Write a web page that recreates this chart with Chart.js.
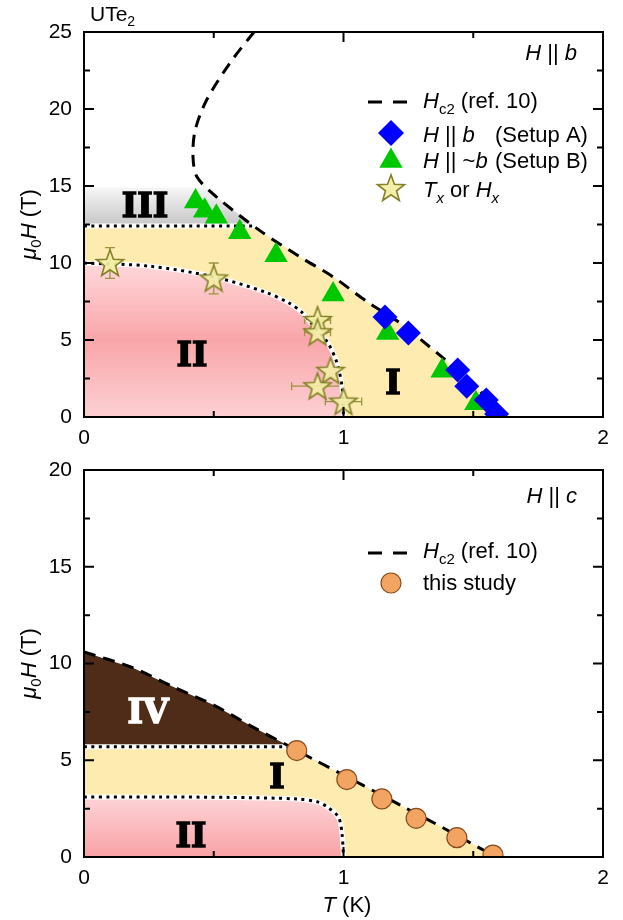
<!DOCTYPE html>
<html>
<head>
<meta charset="utf-8">
<script src="https://cdn.jsdelivr.net/npm/chart.js@4.4.1/dist/chart.umd.min.js"></script>
<style>
  html, body { margin: 0; padding: 0; background: #fff; width: 623px; height: 920px; overflow: hidden; }
  canvas { position: absolute; left: 0; }
  #topChart { top: 0; }
  #botChart { top: 440px; }
</style>
</head>
<body>
<canvas id="topChart" width="623" height="460"></canvas>
<canvas id="botChart" width="623" height="480"></canvas>
<script>
// ---- axes ----
const xTicks = [0, 1, 2];
const xMinor = [0.5, 1.5];
const yTicksB = [0, 5, 10, 15, 20, 25];
const yMinorB = [2.5, 7.5, 12.5, 17.5, 22.5];
const yTicksC = [0, 5, 10, 15, 20];
const yMinorC = [2.5, 7.5, 12.5, 17.5];

// ---- H || b ----
const hc2B_T = [0.655, 0.563, 0.473, 0.428, 0.42, 0.435, 0.51, 0.678, 0.832, 0.96, 1.09, 1.218, 1.372, 1.5, 1.603];
const hc2B_H = [25.0, 23.0, 20.6, 18.6, 16.9, 15.6, 14.3, 12.1, 10.4, 9.1, 7.5, 6.1, 4.0, 2.2, 0.0];
const setupA_T = [1.16, 1.25, 1.44, 1.475, 1.55, 1.59];
const setupA_H = [6.5, 5.45, 3.05, 2.0, 1.1, 0.2];
const setupB_T = [0.43, 0.465, 0.51, 0.6, 0.74, 0.96, 1.17, 1.38, 1.51];
const setupB_H = [14.0, 13.4, 13.0, 12.0, 10.5, 7.95, 5.45, 3.0, 0.9];
const txT = [0.10, 0.50, 0.90, 0.90, 0.95, 0.90, 1.00];
const txH = [10.0, 9.0, 6.3, 5.5, 3.0, 2.0, 1.0];
const txErrT = [0, 0, 0.05, 0.05, 0, 0.1, 0.07];
const txErrH = [1.0, 1.0, 0, 0, 0, 0, 0];
// phase boundaries
const topIII_H = 14.9;
const lineI_B_T = [0, 0.66];
const lineI_B_H = [12.4, 12.4];
const lineII_B_T = [0, 0.25, 0.5, 0.7, 0.79, 0.84, 0.88, 0.94, 0.975, 0.995, 1.0];
const lineII_B_H = [10.0, 9.8, 9.1, 8.1, 7.4, 6.8, 6.0, 4.8, 3.5, 1.9, 0.0];

// ---- H || c ----
const hc2C_T = [0.0, 0.19, 0.343, 0.5, 0.653, 0.78, 0.884, 1.076, 1.23, 1.385, 1.513, 1.59];
const hc2C_H = [10.6, 9.77, 8.8, 7.85, 6.7, 5.8, 5.05, 3.7, 2.6, 1.5, 0.55, 0.0];
const studyT = [0.82, 1.013, 1.148, 1.28, 1.437, 1.576];
const studyH = [5.5, 4.0, 3.0, 2.0, 1.0, 0.1];
const lineI_C_T = [0, 0.79];
const lineI_C_H = [5.7, 5.7];
const lineII_C_T = [0, 0.3, 0.56, 0.82, 0.9, 0.936, 0.98, 0.994, 1.0];
const lineII_C_H = [3.1, 3.1, 3.08, 3.0, 2.85, 2.6, 2.07, 1.24, 0.0];

const FAM = '"Liberation Sans", Arial, Helvetica, sans-serif';
const SERIF = '"DejaVu Serif", serif';

function pts(T, H) { return T.map((t, i) => ({ x: t, y: H[i] })); }

// points of the descending Hc2 branch between two field levels
function branchBetween(T, H, start, hi, lo) {
  const at = lv => {
    for (let i = start; i < T.length - 1; i++) {
      if ((H[i] - lv) * (H[i + 1] - lv) <= 0) {
        const f = (H[i] - lv) / (H[i] - H[i + 1]);
        return { x: T[i] + f * (T[i + 1] - T[i]), y: lv };
      }
    }
    return { x: T[start], y: lv };
  };
  const out = [at(hi)];
  for (let i = start; i < T.length; i++) if (H[i] < hi && H[i] > lo) out.push({ x: T[i], y: H[i] });
  out.push(at(lo));
  return out;
}

const starImg = (() => {
  const c = document.createElement('canvas');
  c.width = 32; c.height = 32;
  const g = c.getContext('2d');
  g.beginPath();
  for (let k = 0; k < 10; k++) {
    const r = k % 2 ? 5.8 : 14.2;
    const a = -Math.PI / 2 + k * Math.PI / 5;
    const px = 16 + r * Math.cos(a), py = 17 + r * Math.sin(a);
    k ? g.lineTo(px, py) : g.moveTo(px, py);
  }
  g.closePath();
  g.fillStyle = 'rgba(242,238,164,0.92)';
  g.fill();
  g.lineWidth = 1.6;
  g.strokeStyle = '#858128';
  g.stroke();
  return c;
})();

function rich(ctx, parts, x, y, size, align) {
  const font = s => (s.includes('i') ? 'italic ' : '') + (s.includes('s') ? Math.round(size * 0.68) : size) + 'px ' + FAM;
  let w = 0;
  for (const [t, s] of parts) { ctx.font = font(s); w += ctx.measureText(t).width; }
  let cx = align === 'right' ? x - w : align === 'center' ? x - w / 2 : x;
  ctx.textAlign = 'left';
  ctx.textBaseline = 'alphabetic';
  for (const [t, s] of parts) {
    ctx.font = font(s);
    ctx.fillText(t, cx, y + (s.includes('s') ? size * 0.25 : 0));
    cx += ctx.measureText(t).width;
  }
}

function drawMarker(ctx, style, color, radius, x, y, border) {
  ctx.save();
  ctx.fillStyle = color;
  ctx.strokeStyle = border || color;
  ctx.lineWidth = border ? 1.2 : 0;
  Chart.helpers.drawPoint(ctx, { pointStyle: style, radius: radius, rotation: 0, borderWidth: border ? 1.2 : 0 }, x, y);
  ctx.restore();
}

function panelPlugin(p) {
  return {
    id: 'panel',
    beforeDatasetsDraw(chart) {
      const { ctx, chartArea: a, scales: { x, y } } = chart;
      ctx.save();
      ctx.beginPath();
      ctx.rect(a.left, a.top, a.right - a.left, a.bottom - a.top);
      ctx.clip();
      for (const r of p.regions) {
        ctx.beginPath();
        r.pts.forEach((q, i) => {
          const px = x.getPixelForValue(q.x), py = y.getPixelForValue(q.y);
          i ? ctx.lineTo(px, py) : ctx.moveTo(px, py);
        });
        ctx.closePath();
        ctx.fillStyle = r.fill(ctx, y);
        ctx.fill();
      }
      ctx.restore();
      // region labels (heavy slab serif)
      ctx.save();
      ctx.font = 'bold 33px ' + SERIF;
      ctx.textAlign = 'center';
      ctx.textBaseline = 'alphabetic';
      ctx.lineWidth = 1.6;
      ctx.lineJoin = 'miter';
      for (const l of p.labels) {
        ctx.fillStyle = l.c; ctx.strokeStyle = l.c;
        ctx.fillText(l.t, l.x, l.y);
        ctx.strokeText(l.t, l.x, l.y);
      }
      ctx.restore();
      // error bars
      if (p.errors) {
        ctx.save();
        ctx.strokeStyle = '#9a9440';
        ctx.lineWidth = 1.3;
        ctx.beginPath();
        p.errors.T.forEach((t, i) => {
          const px = x.getPixelForValue(t), py = y.getPixelForValue(p.errors.H[i]);
          const dt = p.errors.eT[i], dh = p.errors.eH[i];
          if (dt) {
            const l = x.getPixelForValue(t - dt), r = x.getPixelForValue(t + dt);
            ctx.moveTo(l, py); ctx.lineTo(r, py);
            ctx.moveTo(l, py - 4); ctx.lineTo(l, py + 4);
            ctx.moveTo(r, py - 4); ctx.lineTo(r, py + 4);
          }
          if (dh) {
            const t1 = y.getPixelForValue(p.errors.H[i] + dh), b1 = y.getPixelForValue(p.errors.H[i] - dh);
            ctx.moveTo(px, t1); ctx.lineTo(px, b1);
            ctx.moveTo(px - 5, t1); ctx.lineTo(px + 5, t1);
            ctx.moveTo(px - 5, b1); ctx.lineTo(px + 5, b1);
          }
        });
        ctx.stroke();
        ctx.restore();
      }
    },
    afterDraw(chart) {
      const { ctx, chartArea: a, scales: { x, y } } = chart;
      ctx.save();
      ctx.strokeStyle = '#000';
      ctx.lineWidth = 2;
      ctx.beginPath();
      const xt = (vals, len) => vals.forEach(v => {
        const px = x.getPixelForValue(v);
        ctx.moveTo(px, a.bottom); ctx.lineTo(px, a.bottom - len);
        ctx.moveTo(px, a.top); ctx.lineTo(px, a.top + len);
      });
      const yt = (vals, len) => vals.forEach(v => {
        const py = y.getPixelForValue(v);
        ctx.moveTo(a.left, py); ctx.lineTo(a.left + len, py);
        ctx.moveTo(a.right, py); ctx.lineTo(a.right - len, py);
      });
      xt(xTicks, 10); xt(xMinor, 6);
      yt(p.yTicks, 10); yt(p.yMinor, 6);
      ctx.stroke();
      ctx.strokeRect(a.left, a.top, a.right - a.left, a.bottom - a.top);
      ctx.restore();

      ctx.save();
      ctx.fillStyle = '#000';
      // y title
      ctx.save();
      ctx.translate(35.5, (a.top + a.bottom) / 2);
      ctx.rotate(-Math.PI / 2);
      rich(ctx, [['μ', 'i'], ['0', 's'], ['H', 'i'], [' (T)', '']], 0, 0, 22, 'center');
      ctx.restore();
      p.draw(ctx, a);
      ctx.restore();
    }
  };
}

function makeChart(id, p) {
  return new Chart(document.getElementById(id), {
    type: 'scatter',
    data: { datasets: p.datasets },
    options: {
      responsive: false,
      animation: false,
      events: [],
      layout: { padding: { left: 0, right: 20, top: p.padTop, bottom: 0 } },
      plugins: { legend: { display: false }, tooltip: { enabled: false } },
      scales: {
        x: {
          type: 'linear', min: 0, max: 2,
          afterBuildTicks: s => { s.ticks = xTicks.map(v => ({ value: v })); },
          afterFit: s => { s.height = p.xHeight; },
          grid: { display: false, drawTicks: false, tickLength: 0 },
          border: { display: false },
          ticks: { font: { family: FAM, size: 21 }, color: '#000', padding: 9, maxRotation: 0, callback: v => String(v) }
        },
        y: {
          type: 'linear', min: 0, max: p.yMax,
          afterBuildTicks: s => { s.ticks = p.yTicks.map(v => ({ value: v })); },
          afterFit: s => { s.width = 84; },
          grid: { display: false, drawTicks: false, tickLength: 0 },
          border: { display: false },
          ticks: { font: { family: FAM, size: 21 }, color: '#000', padding: 12, callback: v => String(v) }
        }
      }
    },
    plugins: [panelPlugin(p)]
  });
}

const dotted = (T, H) => [
  { data: pts(T, H), showLine: true, borderColor: '#fff', borderWidth: 5, pointRadius: 0, tension: 0.3, order: 10 },
  { data: pts(T, H), showLine: true, borderColor: '#000', borderWidth: 3, borderDash: [3, 4.5], pointRadius: 0, tension: 0.3, order: 9 }
];
const dashed = (T, H) => ({ data: pts(T, H), showLine: true, borderColor: '#000', borderWidth: 3, borderDash: [12, 8], pointRadius: 0, tension: 0.3, order: 8 });

const yellow = () => '#fdebb0';

// ---- top panel ----
makeChart('topChart', {
  padTop: 32, xHeight: 43, yMax: 25, yTicks: yTicksB, yMinor: yMinorB,
  regions: [
    { pts: [{ x: 0, y: 0 }, { x: 0, y: lineI_B_H[0] }, ...branchBetween(hc2B_T, hc2B_H, 4, lineI_B_H[0], 0)], fill: yellow },
    { pts: [{ x: 0, y: lineI_B_H[0] }, { x: 0, y: topIII_H }, ...branchBetween(hc2B_T, hc2B_H, 4, topIII_H, lineI_B_H[0])],
      fill: (ctx, y) => { const g = ctx.createLinearGradient(0, y.getPixelForValue(topIII_H), 0, y.getPixelForValue(lineI_B_H[0])); g.addColorStop(0, '#f6f6f6'); g.addColorStop(1, '#c6c6c6'); return g; } },
    { pts: [{ x: 0, y: 0 }, ...pts(lineII_B_T, lineII_B_H)],
      fill: (ctx, y) => { const g = ctx.createLinearGradient(0, y.getPixelForValue(10), 0, y.getPixelForValue(0)); g.addColorStop(0, '#ffd8db'); g.addColorStop(0.5, '#f9a6a9'); g.addColorStop(1, '#fdd0d3'); return g; } }
  ],
  labels: [
    { t: 'III', x: 145, y: 217, c: '#000' },
    { t: 'II', x: 192, y: 366, c: '#000' },
    { t: 'I', x: 393, y: 394, c: '#000' }
  ],
  errors: { T: txT, H: txH, eT: txErrT, eH: txErrH },
  datasets: [
    ...dotted(lineI_B_T, lineI_B_H),
    ...dotted(lineII_B_T, lineII_B_H),
    dashed(hc2B_T, hc2B_H),
    { data: pts(setupB_T, setupB_H), pointStyle: 'triangle', pointRadius: 13.5, pointBackgroundColor: '#00c800', pointBorderWidth: 0, order: 3 },
    { data: pts(setupA_T, setupA_H), pointStyle: 'rectRot', pointRadius: 12.5, pointBackgroundColor: '#0000ff', pointBorderWidth: 0, order: 2 },
    { data: pts(txT, txH), pointStyle: starImg, pointRadius: 14, order: 1 }
  ],
  draw(ctx, a) {
    rich(ctx, [['UTe', ''], ['2', 's']], 90, 21, 21, 'left');
    rich(ctx, [['H', 'i'], [' || ', ''], ['b', 'i']], 577, 60, 22, 'right');
    ctx.save();
    ctx.strokeStyle = '#000'; ctx.lineWidth = 3; ctx.setLineDash([14, 11]);
    ctx.beginPath(); ctx.moveTo(368, 102); ctx.lineTo(407, 102); ctx.stroke();
    ctx.restore();
    rich(ctx, [['H', 'i'], ['c2', 's'], [' (ref. 10)', '']], 423, 108, 22, 'left');
    drawMarker(ctx, 'rectRot', '#0000ff', 13, 391, 133);
    rich(ctx, [['H', 'i'], [' || ', ''], ['b', 'i']], 423, 142, 22, 'left');
    rich(ctx, [['(Setup A)', '']], 495, 142, 22, 'left');
    drawMarker(ctx, 'triangle', '#00c800', 13.5, 391, 161);
    rich(ctx, [['H', 'i'], [' || ~', ''], ['b', 'i']], 423, 168, 22, 'left');
    rich(ctx, [['(Setup B)', '']], 495, 168, 22, 'left');
    ctx.drawImage(starImg, 391 - 16, 188 - 16);
    rich(ctx, [['T', 'i'], ['x', 'si'], [' or ', ''], ['H', 'i'], ['x', 'si']], 423, 197, 22, 'left');
  }
});

// ---- bottom panel ----
makeChart('botChart', {
  padTop: 30, xHeight: 63, yMax: 20, yTicks: yTicksC, yMinor: yMinorC,
  regions: [
    { pts: [{ x: 0, y: 0 }, { x: 0, y: lineI_C_H[0] }, ...branchBetween(hc2C_T, hc2C_H, 0, lineI_C_H[0], 0)], fill: yellow },
    { pts: [{ x: 0, y: lineI_C_H[0] }, ...branchBetween(hc2C_T, hc2C_H, 0, hc2C_H[0], lineI_C_H[0])], fill: () => '#4e2c17' },
    { pts: [{ x: 0, y: 0 }, ...pts(lineII_C_T, lineII_C_H)],
      fill: (ctx, y) => { const g = ctx.createLinearGradient(0, y.getPixelForValue(3.1), 0, y.getPixelForValue(0)); g.addColorStop(0, '#fdd3d6'); g.addColorStop(1, '#f9a2a5'); return g; } }
  ],
  labels: [
    { t: 'IV', x: 148, y: 283, c: '#fff' },
    { t: 'I', x: 277, y: 348, c: '#000' },
    { t: 'II', x: 191, y: 407, c: '#000' }
  ],
  datasets: [
    ...dotted(lineI_C_T, lineI_C_H),
    ...dotted(lineII_C_T, lineII_C_H),
    dashed(hc2C_T, hc2C_H),
    { data: pts(studyT, studyH), pointStyle: 'circle', pointRadius: 10, pointBackgroundColor: '#f2a463', pointBorderColor: '#8b4c1c', pointBorderWidth: 1.2, order: 1 }
  ],
  draw(ctx, a) {
    rich(ctx, [['H', 'i'], [' || ', ''], ['c', 'i']], 577, 63, 22, 'right');
    ctx.save();
    ctx.strokeStyle = '#000'; ctx.lineWidth = 3; ctx.setLineDash([14, 11]);
    ctx.beginPath(); ctx.moveTo(368, 113); ctx.lineTo(407, 113); ctx.stroke();
    ctx.restore();
    rich(ctx, [['H', 'i'], ['c2', 's'], [' (ref. 10)', '']], 423, 118, 22, 'left');
    drawMarker(ctx, 'circle', '#f2a463', 10, 391, 143, '#8b4c1c');
    rich(ctx, [['this study', '']], 423, 150, 22, 'left');
    rich(ctx, [['T', 'i'], [' (K)', '']], 347, 472, 22, 'center');
  }
});
</script>
</body>
</html>
